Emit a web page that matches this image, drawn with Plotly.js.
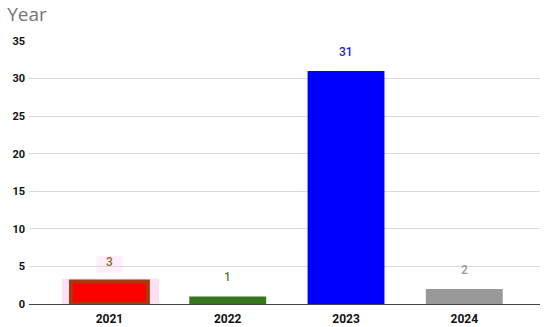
<!DOCTYPE html>
<html>
<head>
<meta charset="utf-8">
<script src="https://cdn.plot.ly/plotly-3.0.1.min.js"></script>
<style>
  html, body { margin: 0; padding: 0; background: #fff; }
  #chart { width: 550px; height: 327px; }
</style>
</head>
<body>
<div id="chart"></div>
<script>
// data
const years = ['2021', '2022', '2023', '2024'];
const counts = [3, 1, 31, 2];
const barColors = ['#ff0000', '#38761d', '#0000ff', '#999999'];
const lineColors = ['#a8380f', '#38761d', '#0000ff', '#999999'];
const labelColors = ['#8a6a2c', '#5a7a3a', '#1c1ccc', '#999999'];

const barTrace = {
    type: 'bar',
    x: years,
    y: counts,
    width: 0.65,
    marker: {
        color: barColors,
        line: {color: lineColors, width: [4, 0, 0, 0]}
    },
    hoverinfo: 'x+y'
};

// value labels above the bars
const labels = [];
for (let i = 0; i < years.length; i++) {
    labels.push({
        xref: 'x', yref: 'y',
        x: i, y: counts[i],
        text: String(counts[i]),
        showarrow: false,
        yanchor: 'bottom',
        yshift: 10,
        font: {family: 'Roboto, Arial, sans-serif', size: 12, color: labelColors[i], weight: 500}
    });
}

// pink selection highlight behind the first bar and its label
const highlight = [
    {type: 'rect', xref: 'x', yref: 'y', layer: 'below',
     x0: -0.4, x1: 0.42, y0: 0, y1: counts[0] + 0.35,
     fillcolor: '#fde0f6', line: {width: 0}},
    {type: 'rect', xref: 'x', yref: 'paper', layer: 'below',
     x0: -0.11, x1: 0.11, y0: 0.12, y1: 0.182,
     fillcolor: '#fdeefa', line: {width: 0}}
];

const layout = {
    width: 550,
    height: 327,
    margin: {l: 29, r: 10, t: 41, b: 23},
    paper_bgcolor: '#ffffff',
    plot_bgcolor: '#ffffff',
    showlegend: false,
    title: {
        text: 'Year',
        x: 0.013, xanchor: 'left',
        y: 0.955, yanchor: 'middle',
        font: {family: 'Open Sans, Roboto, sans-serif', size: 19, color: '#757575'}
    },
    xaxis: {
        type: 'category',
        range: [-0.68, 3.64],
        showgrid: false,
        ticks: '',
        ticklabelstandoff: 6,
        tickfont: {family: 'Roboto, Arial, sans-serif', size: 12, color: '#111', weight: 'bold'},
        showline: false,
        fixedrange: true
    },
    yaxis: {
        range: [0, 35],
        dtick: 5,
        showgrid: true,
        gridcolor: '#d9d9d9',
        gridwidth: 1,
        zeroline: true,
        zerolinecolor: '#444444',
        zerolinewidth: 1.3,
        ticks: '',
        ticklabelstandoff: 3,
        tickfont: {family: 'Roboto, Arial, sans-serif', size: 11, color: '#111', weight: 'bold'},
        fixedrange: true
    },
    annotations: labels,
    shapes: highlight
};

Plotly.newPlot('chart', [barTrace], layout, {displayModeBar: false});
</script>
</body>
</html>
